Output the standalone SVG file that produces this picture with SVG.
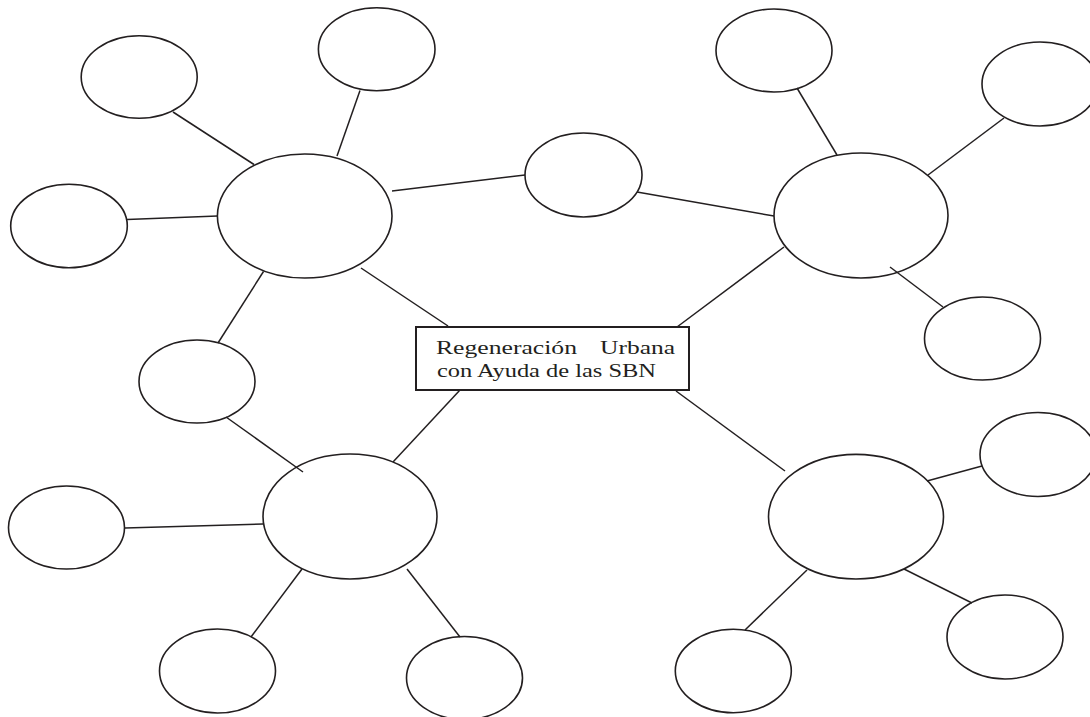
<svg xmlns="http://www.w3.org/2000/svg" width="1090" height="717" viewBox="0 0 1090 717">
  <style>
    .bubble { fill: none; stroke: #231f20; stroke-width: 1.6; }
    .title-box { fill: #ffffff; stroke: #231f20; stroke-width: 2; }
    .link { stroke: #231f20; stroke-width: 1.5; fill: none; }
    .label { font-family: "Liberation Serif", "Times New Roman", serif; font-size: 19px; fill: #231f20; }
  </style>
  <rect x="0" y="0" width="1090" height="717" fill="#ffffff"/>

  <!-- connectors -->
  <g id="connectors">
    <line class="link" x1="173" y1="112" x2="254" y2="164.5"/>
    <line class="link" x1="360" y1="90.5" x2="337" y2="156"/>
    <line class="link" x1="127" y1="219.5" x2="217.5" y2="216"/>
    <line class="link" x1="392" y1="191" x2="525" y2="175"/>
    <line class="link" x1="263.5" y1="271.5" x2="218" y2="343"/>
    <line class="link" x1="361" y1="268" x2="448" y2="326"/>
    <line class="link" x1="677" y1="327" x2="784" y2="247"/>
    <line class="link" x1="637" y1="192" x2="774" y2="216"/>
    <line class="link" x1="797" y1="88" x2="837" y2="155"/>
    <line class="link" x1="1004" y1="118" x2="928" y2="175"/>
    <line class="link" x1="890" y1="267" x2="943" y2="307"/>
    <line class="link" x1="226" y1="417" x2="303" y2="472"/>
    <line class="link" x1="460" y1="390" x2="393" y2="462"/>
    <line class="link" x1="125" y1="528" x2="263" y2="524"/>
    <line class="link" x1="302" y1="569" x2="251" y2="637"/>
    <line class="link" x1="407" y1="569" x2="460" y2="637"/>
    <line class="link" x1="676" y1="391" x2="785" y2="471"/>
    <line class="link" x1="927" y1="481" x2="982" y2="466"/>
    <line class="link" x1="904" y1="569" x2="972" y2="603"/>
    <line class="link" x1="807" y1="570" x2="745" y2="630"/>
  </g>

  <!-- central topic -->
  <g id="center">
    <rect class="title-box" x="416" y="327" width="273" height="63"/>
    <text class="label" x="436" y="354" textLength="141" lengthAdjust="spacingAndGlyphs">Regeneración</text>
    <text class="label" x="600" y="354" textLength="75" lengthAdjust="spacingAndGlyphs">Urbana</text>
    <text class="label" x="437" y="377" textLength="219" lengthAdjust="spacingAndGlyphs">con Ayuda de las SBN</text>
  </g>

  <!-- upper-left cluster -->
  <g id="hub-nw"><ellipse class="bubble" cx="304.7" cy="216" rx="87.3" ry="62"/></g>
  <g id="leaf-nw-1"><ellipse class="bubble" cx="139.2" cy="77" rx="58" ry="41.3"/></g>
  <g id="leaf-nw-2"><ellipse class="bubble" cx="376.7" cy="49.2" rx="58.3" ry="41.5"/></g>
  <g id="leaf-nw-3"><ellipse class="bubble" cx="69" cy="226" rx="58.3" ry="41.7"/></g>
  <g id="leaf-nw-4"><ellipse class="bubble" cx="197" cy="381.5" rx="58" ry="41.5"/></g>

  <!-- bridge between upper hubs -->
  <g id="leaf-n"><ellipse class="bubble" cx="583.5" cy="175" rx="58.5" ry="42"/></g>

  <!-- upper-right cluster -->
  <g id="hub-ne"><ellipse class="bubble" cx="861" cy="215.5" rx="87" ry="62.5"/></g>
  <g id="leaf-ne-1"><ellipse class="bubble" cx="774" cy="50.5" rx="58" ry="41.5"/></g>
  <g id="leaf-ne-2"><ellipse class="bubble" cx="1040" cy="84" rx="58" ry="42"/></g>
  <g id="leaf-ne-3"><ellipse class="bubble" cx="982.5" cy="338.5" rx="58" ry="41.5"/></g>

  <!-- lower-left cluster -->
  <g id="hub-sw"><ellipse class="bubble" cx="350" cy="516.5" rx="87" ry="62.5"/></g>
  <g id="leaf-sw-1"><ellipse class="bubble" cx="66.5" cy="527.5" rx="58" ry="41.5"/></g>
  <g id="leaf-sw-2"><ellipse class="bubble" cx="217.5" cy="671" rx="58" ry="42"/></g>
  <g id="leaf-sw-3"><ellipse class="bubble" cx="464.5" cy="678" rx="58" ry="41.5"/></g>

  <!-- lower-right cluster -->
  <g id="hub-se"><ellipse class="bubble" cx="856" cy="516.7" rx="87.5" ry="62.3"/></g>
  <g id="leaf-se-1"><ellipse class="bubble" cx="1038" cy="454.5" rx="58" ry="42"/></g>
  <g id="leaf-se-2"><ellipse class="bubble" cx="1005" cy="637" rx="58" ry="42"/></g>
  <g id="leaf-se-3"><ellipse class="bubble" cx="733.3" cy="671" rx="58" ry="41.7"/></g>
</svg>
